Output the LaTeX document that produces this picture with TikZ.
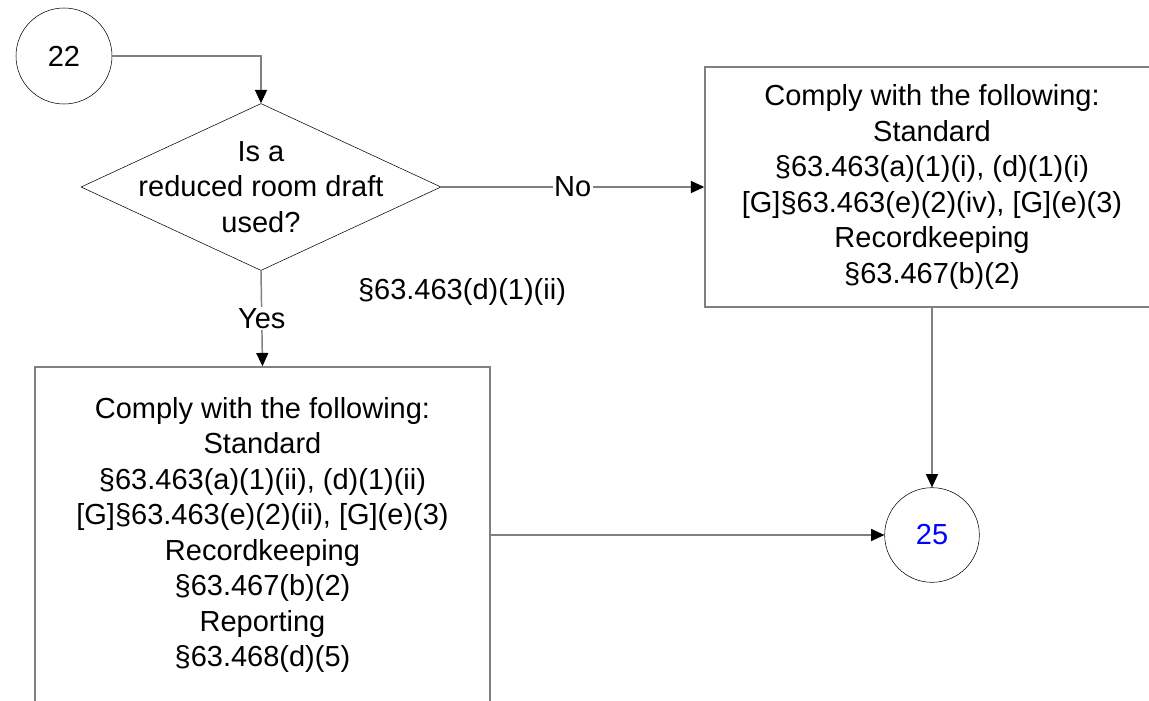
\documentclass[tikz,border=0pt]{standalone}
\usepackage{fontspec}
\setmainfont{Liberation Sans}
\usepackage{xcolor}
\usetikzlibrary{positioning,shapes.geometric,arrows.meta}
\definecolor{LineGray}{HTML}{808080}
\definecolor{RefBlue}{HTML}{0000FF}

\begin{document}
\begin{tikzpicture}[
      x=0.75pt, y=-0.75pt,
      every node/.style={align=center, font=\fontsize{21.75pt}{26.6pt}\selectfont},
      box/.style={draw=LineGray, line width=1.1pt, rectangle, minimum width=341.25pt, minimum height=252pt, inner sep=0pt},
      connector/.style={draw, circle, thin, minimum size=72pt, inner sep=0pt},
      decision/.style={draw, diamond, thin, minimum width=270pt, minimum height=125.25pt, inner sep=0pt},
      arrow/.style={LineGray, line width=1.1pt, -{Triangle[length=10pt, width=9pt, black]}},
      edgelabel/.style={fill=white, text=black, inner sep=1pt}
    ]
      \useasboundingbox (0,0) rectangle (1149,700);
      % Connectors and decision
      \node[connector] (c22) at (64,56) {22};
      \node[decision, label={center:Is a\\reduced room draft\\used?}] (q) at (261,187) {};
      \node[connector, minimum size=71pt] (c25) at (932,535) {\textcolor{RefBlue}{25}};
      % Action boxes
      \node[box, minimum width=340.5pt, minimum height=180pt] (nobox) at (932,187) {Comply with the following:\\Standard\\§63.463(a)(1)(i), (d)(1)(i)\\{[G]}§63.463(e)(2)(iv), [G](e)(3)\\Recordkeeping\\§63.467(b)(2)};
      \node[box] (yesbox) at (262.5,535) {Comply with the following:\\Standard\\§63.463(a)(1)(ii), (d)(1)(ii)\\{[G]}§63.463(e)(2)(ii), [G](e)(3)\\Recordkeeping\\§63.467(b)(2)\\Reporting\\§63.468(d)(5)};
      \node (cite) at (462,292) {§63.463(d)(1)(ii)};
      % Arrows
      \draw[arrow] (c22.east) -| (q.north);
      \draw[arrow] (q.east) -- node[edgelabel] (nolbl) {No} (nobox.west);
      \draw[arrow] (q.south) -- node[edgelabel] (yeslbl) {Yes} (yesbox.north);
      \draw[arrow] (nobox.south) -- (c25.north);
      \draw[arrow] (yesbox.east) -- (yesbox.east -| c25.west);
    \end{tikzpicture}
\end{document}
